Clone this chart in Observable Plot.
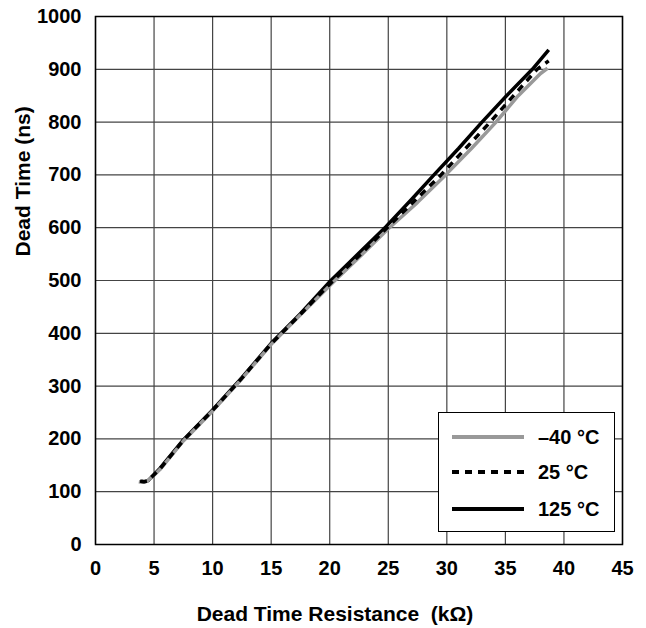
<!DOCTYPE html>
<html>
<head>
<meta charset="utf-8">
<script src="https://cdn.jsdelivr.net/npm/d3@7"></script>
<script src="https://cdn.jsdelivr.net/npm/@observablehq/plot@0.6"></script>
<style>
  html, body { margin: 0; padding: 0; background: #fff; }
  #wrap { position: relative; width: 646px; height: 628px; font-family: "Liberation Sans", Arial, sans-serif; }
  #legend { position: absolute; left: 438px; top: 412px; width: 177px; height: 120px; border: 1.5px solid #000; background: #fff; box-sizing: border-box; }
  .row { position: absolute; left: 13px; height: 20px; display: flex; align-items: center; }
  .row span { font-weight: bold; font-size: 20px; margin-left: 14px; color: #000; white-space: nowrap; }
</style>
</head>
<body>
<div id="wrap"></div>
<script>
const seriesNames = ["–40 °C", "25 °C", "125 °C"];
const seriesColors = ["#999999", "#000000", "#000000"];
const seriesDash = ["none", "7,6", "none"];

const xN40 = [3.7, 4.0, 4.4, 4.8, 5.5, 7.5, 10, 12.5, 15, 17.5, 20.4, 22.7, 25, 27.5, 29.9, 32.1, 34.2, 36.1, 38, 38.6];
const yN40 = [119, 118, 120, 127, 142, 196, 253, 314, 379, 435, 499, 548, 598, 648, 700, 750, 800, 850, 892, 902];

const x25 = [3.8, 4.1, 4.4, 4.8, 5.5, 7.5, 10, 12.5, 15, 17.5, 20.3, 22.6, 24.9, 27.2, 29.5, 31.6, 33.7, 35.7, 37.7, 38.7];
const y25 = [120, 119, 120, 128, 143, 197, 254, 315, 380, 436, 500, 549, 600, 650, 700, 750, 800, 850, 900, 916];

const x125 = [3.9, 4.2, 4.5, 4.8, 5.5, 7.5, 10, 12.5, 15, 17.5, 20.1, 22.5, 24.8, 27, 28.9, 31, 33.0, 35.1, 37.3, 38.7];
const y125 = [120, 119, 121, 128, 144, 198, 255, 316, 381, 437, 500, 552, 602, 654, 700, 750, 800, 850, 900, 937];

const xTicks = [0, 5, 10, 15, 20, 25, 30, 35, 40, 45];
const yTicks = [0, 100, 200, 300, 400, 500, 600, 700, 800, 900, 1000];
const xLabel = "Dead Time Resistance\u00a0\u00a0(kΩ)";
const yLabel = "Dead Time (ns)";

const series = [
  {name: seriesNames[0], xs: xN40, ys: yN40},
  {name: seriesNames[1], xs: x25, ys: y25},
  {name: seriesNames[2], xs: x125, ys: y125}
].map(s => s.xs.map((x, i) => ({x, y: s.ys[i], name: s.name})));

// draw order: 125 °C underneath, then –40 °C, then dashed 25 °C on top
const drawOrder = [2, 0, 1];

const chart = Plot.plot({
  width: 646,
  height: 628,
  marginLeft: 95,
  marginRight: 24,
  marginTop: 16,
  marginBottom: 84,
  style: {fontFamily: "'Liberation Sans', Arial, sans-serif", fontSize: "20px", fontWeight: "bold", color: "#000", background: "#fff"},
  x: {domain: [0, 45], ticks: xTicks, label: null},
  y: {domain: [0, 1000], ticks: yTicks, label: null},
  marks: [
    Plot.gridX(xTicks, {stroke: "#444", strokeOpacity: 1, strokeWidth: 1.2}),
    Plot.gridY(yTicks, {stroke: "#444", strokeOpacity: 1, strokeWidth: 1.2}),
    Plot.axisX({ticks: xTicks, tickSize: 0, tickPadding: 16, fontSize: 20, fontWeight: "bold", tickFormat: d3.format("d"), label: null}),
    Plot.axisY({ticks: yTicks, tickSize: 0, tickPadding: 14, fontSize: 20, fontWeight: "bold", tickFormat: d3.format("d"), label: null}),
    Plot.text([xLabel], {text: d => d, frameAnchor: "bottom", dx: -24, dy: 76, fontSize: 21, fontWeight: "bold", fill: "#000"}),
    Plot.text([yLabel], {text: d => d, frameAnchor: "left", rotate: -90, dx: -72, dy: -24, fontSize: 21, fontWeight: "bold", fill: "#000"}),
    ...drawOrder.map(i => Plot.line(series[i], {x: "x", y: "y", stroke: seriesColors[i], strokeWidth: 3.5,
      strokeDasharray: seriesDash[i], strokeLinecap: "butt", strokeLinejoin: "round"})),
    Plot.frame({stroke: "#000", strokeWidth: 1.5})
  ]
});
const wrap = document.getElementById("wrap");
wrap.appendChild(chart);

// legend (HTML overlay)
const legend = document.createElement("div");
legend.id = "legend";
const rowTops = [14, 49, 86];
seriesNames.forEach((n, i) => {
  const row = document.createElement("div");
  row.className = "row";
  row.style.top = rowTops[i] + "px";
  row.innerHTML = `<svg width="72" height="6"><line x1="0" y1="3" x2="72" y2="3" stroke="${seriesColors[i]}" stroke-width="4" ${seriesDash[i] !== "none" ? `stroke-dasharray="${seriesDash[i]}"` : ""}/></svg><span>${n}</span>`;
  legend.appendChild(row);
});
wrap.appendChild(legend);
</script>
</body>
</html>
